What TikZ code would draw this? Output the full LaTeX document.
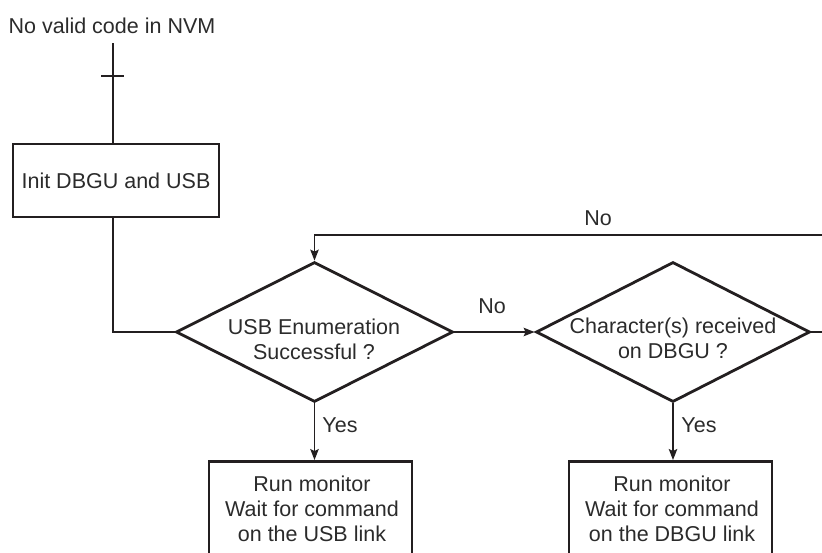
\documentclass[tikz,border=0pt]{standalone}
\usepackage{fontspec}
\setmainfont{Liberation Sans}
\usetikzlibrary{shapes.geometric,arrows.meta}
\definecolor{ink}{HTML}{231F20}
\definecolor{txt}{HTML}{2B2B2B}
\tikzset{
  thickline/.style={draw=ink, line width=2.8pt},
  thinline/.style={draw=ink, line width=1.4pt},
  arr/.style={thinline, -{Stealth[length=11pt,width=8.5pt,inset=2pt]}},
  boxnode/.style={thickline, rectangle, inner sep=0pt, text=txt, align=center},
  dianode/.style={thickline, diamond, inner sep=0pt},
  lbl/.style={text=txt, inner sep=0pt, align=center, font=\fontsize{21.5}{25}\selectfont},
}
\begin{document}
\begin{tikzpicture}[x=1pt, y=-1pt, font=\fontsize{21.5}{25}\selectfont]
\useasboundingbox (0,0) rectangle (822,552);
\clip (0,0) rectangle (822,552);
% start
\node[lbl] (start) at (112,26) {No valid code in NVM};
\coordinate (top) at (113,43);
\node[boxnode, minimum width=206pt, minimum height=73pt] (init) at (116,180.5) {Init DBGU and USB};
\coordinate (initin) at (113,144);
\coordinate (initout) at (113,217);
\draw[thickline] (top) -- (initin);
\coordinate (tickL) at (101,76);
\coordinate (tickR) at (124,76);
\draw[thickline] (tickL) -- (tickR);
% diamonds
\node[dianode, minimum width=277pt, minimum height=140pt] (d1) at (314.5,332) {};
\node[lbl] (d1t) at (314,339) {USB Enumeration\\Successful ?};
\node[dianode, minimum width=274pt, minimum height=140pt] (d2) at (673,332) {};
\node[lbl] (d2t) at (673,338) {Character(s) received\\on DBGU ?};
\draw[thickline] (initout) |- (d1.west);
% no arrow
\draw[arr] (d1.east) -- (d2.west);
\node[lbl] (no1) at (492,306) {No};
% loop back
\coordinate (far1) at (835,332);
\coordinate (far2) at (835,235);
\coordinate (loopin) at (314.5,235);
\draw[arr] (d2.east) -- (far1) -- (far2) -- (loopin) -- (d1.north);
\node[lbl] (no2) at (598,218) {No};
% boxes
\node[boxnode, minimum width=203pt, minimum height=110pt, anchor=north] (b1) at (310.5,460) {};
\node[lbl] (b1t) at (312,509) {Run monitor\\Wait for command\\ on the USB link};
\node[boxnode, minimum width=203pt, minimum height=110pt, anchor=north] (b2) at (670.5,460) {};
\node[lbl] (b2t) at (672,509) {Run monitor\\Wait for command\\on the DBGU link};
\draw[arr] (d1.south) -- (d1.south |- b1.north);
\draw[arr] (d2.south) -- (d2.south |- b2.north);
\node[lbl] (y1) at (340,425) {Yes};
\node[lbl] (y2) at (699,425) {Yes};
\end{tikzpicture}
\end{document}
